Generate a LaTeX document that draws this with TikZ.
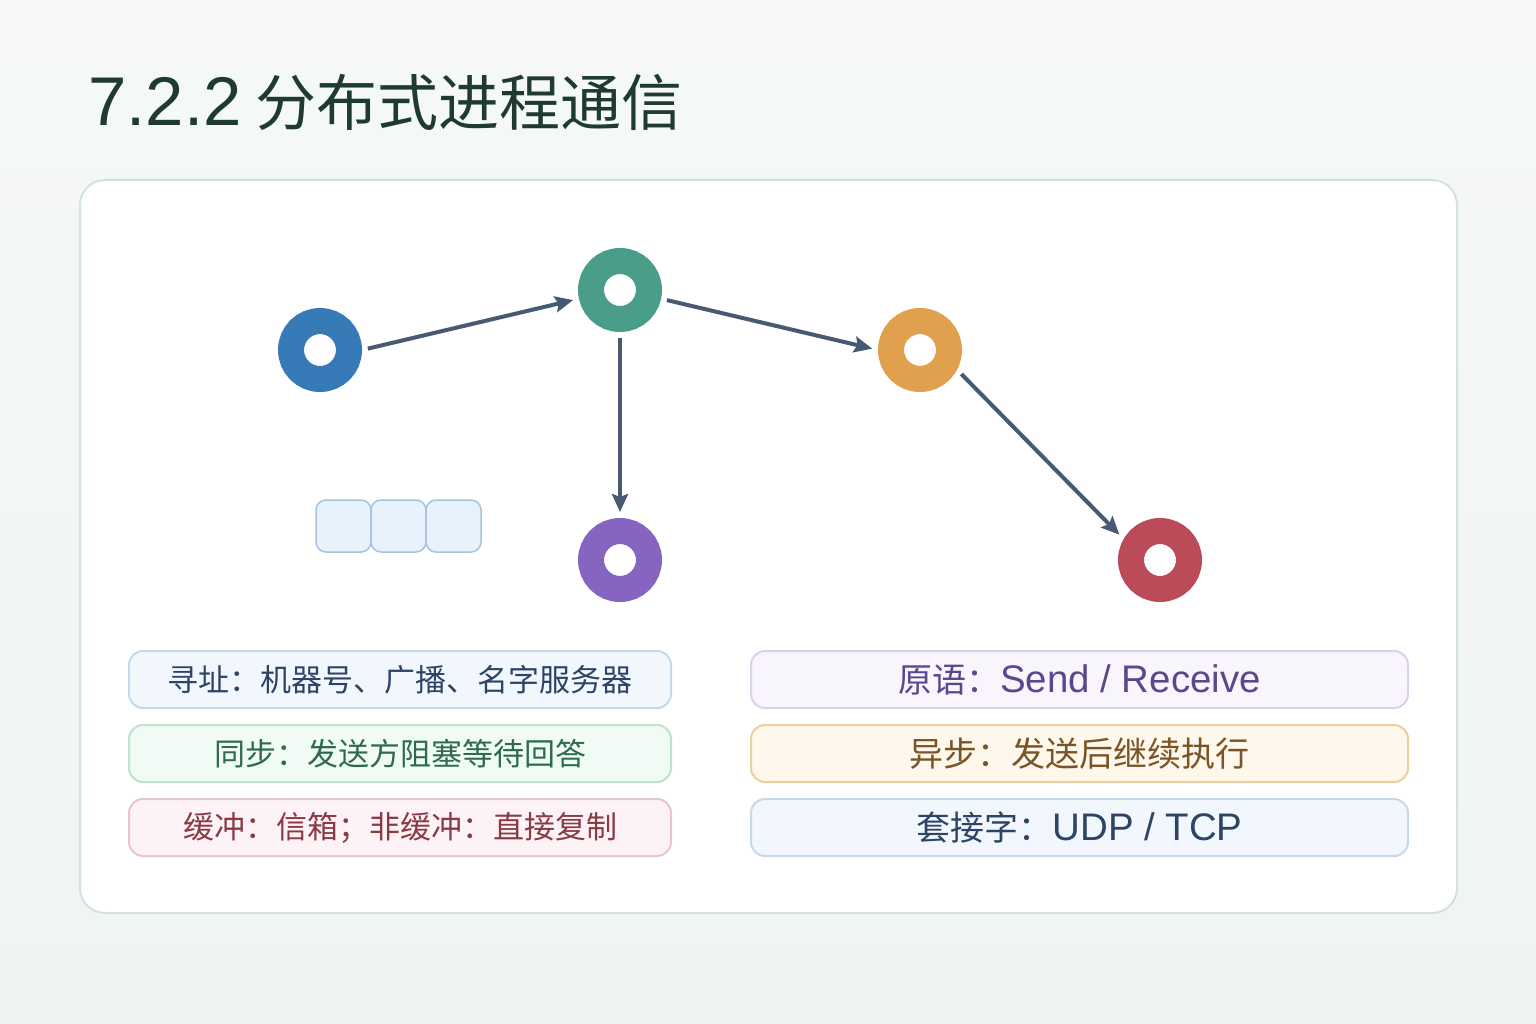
\documentclass[tikz,border=0pt]{standalone}
\usepackage{fontspec}
\setmainfont{Noto Sans CJK SC}
\newfontfamily\latn{Liberation Sans}[Scale=1.13]
\newcommand{\lt}[1]{{\latn #1}}
\usetikzlibrary{arrows.meta}
\definecolor{titlecol}{HTML}{1F3A2F}
\definecolor{panelline}{HTML}{D2E3DB}
\definecolor{arrowcol}{HTML}{465A72}
\definecolor{cblue}{HTML}{377AB8}
\definecolor{cgreen}{HTML}{4A9D88}
\definecolor{corange}{HTML}{E0A04E}
\definecolor{cpurple}{HTML}{8665C0}
\definecolor{cred}{HTML}{BB4B58}
\definecolor{slotfill}{HTML}{E8F2FC}
\definecolor{slotline}{HTML}{A9C3DC}
\definecolor{addrline}{HTML}{C6D8EB}
\definecolor{addrfill}{HTML}{F2F7FD}
\definecolor{addrtext}{HTML}{2C4466}
\definecolor{syncline}{HTML}{BFE1CD}
\definecolor{syncfill}{HTML}{F1FBF5}
\definecolor{synctext}{HTML}{2F6B4B}
\definecolor{bufline}{HTML}{EAC5CC}
\definecolor{buffill}{HTML}{FDF3F6}
\definecolor{buftext}{HTML}{8A3A45}
\definecolor{primline}{HTML}{DDD0EE}
\definecolor{primfill}{HTML}{F8F5FD}
\definecolor{primtext}{HTML}{5B478B}
\definecolor{asyncline}{HTML}{EBCF9F}
\definecolor{asyncfill}{HTML}{FEF7EB}
\definecolor{asynctext}{HTML}{7A5426}

\begin{document}
\begin{tikzpicture}[x=1pt,y=-1pt,
    ring/.style={circle,draw=#1,line width=26pt,fill=white,minimum size=58pt,inner sep=0pt},
    msg/.style={-{Stealth[length=18pt,width=16pt,inset=3pt]},arrowcol,line width=4pt,shorten <=6pt,shorten >=6pt},
    slot/.style={draw=slotline,line width=1.5pt,fill=slotfill,rounded corners=10pt,minimum width=55pt,minimum height=52pt,inner sep=0pt},
    info/.style n args={3}{draw=#1,fill=#2,text=#3,line width=2pt,rounded corners=14pt,minimum height=57pt,inner sep=0pt}]
    \useasboundingbox (0,0) rectangle (1536,1024);
    \shade[top color={rgb,255:red,245;green,248;blue,247},bottom color={rgb,255:red,238;green,245;blue,240}] (0,0) rectangle (1536,1024);
    \draw[panelline,line width=2pt,fill=white,rounded corners=25pt] (80,180) rectangle (1457,913);

    \draw node at (88,102)[name=title,anchor=west,inner sep=0pt,text=titlecol,font=\fontsize{61}{70}\selectfont]{\lt{7.2.2} 分布式进程通信};

    \draw node at (320,350)[name=sender,ring=cblue]{};
    \draw node at (620,290)[name=relay,ring=cgreen]{};
    \draw node at (920,350)[name=peer,ring=corange]{};
    \draw node at (620,560)[name=waiter,ring=cpurple]{};
    \draw node at (1160,560)[name=receiver,ring=cred]{};

    \draw[msg](sender.0) -- (relay.192);
    \draw[msg](relay.348) -- (peer.180);
    \draw[msg](relay) -- (waiter);
    \draw[msg](peer.332) -- (receiver.150);

    \draw node at (343.5,526)[name=slotA,slot]{};
    \draw node at (398.5,526)[name=slotB,slot]{};
    \draw node at (453.5,526)[name=slotC,slot]{};

    \begin{scope}[every node/.append style={minimum width=542pt,font=\fontsize{31}{36}\selectfont}]
      \draw node at (400,679.5)[name=addr,info={addrline}{addrfill}{addrtext}]{寻址：机器号、广播、名字服务器};
      \draw node at (400,753.5)[name=sync,info={syncline}{syncfill}{synctext}]{同步：发送方阻塞等待回答};
      \draw node at (400,827.5)[name=buffer,info={bufline}{buffill}{buftext}]{缓冲：信箱；非缓冲：直接复制};
    \end{scope}
    \begin{scope}[every node/.append style={minimum width=657pt,font=\fontsize{34}{38}\selectfont}]
      \draw node at (1079.5,679.5)[name=prim,info={primline}{primfill}{primtext}]{原语：\lt{Send / Receive}};
      \draw node at (1079.5,753.5)[name=async,info={asyncline}{asyncfill}{asynctext}]{异步：发送后继续执行};
      \draw node at (1079.5,827.5)[name=socket,info={addrline}{addrfill}{addrtext}]{套接字：\lt{UDP / TCP}};
    \end{scope}
\end{tikzpicture}
\end{document}
